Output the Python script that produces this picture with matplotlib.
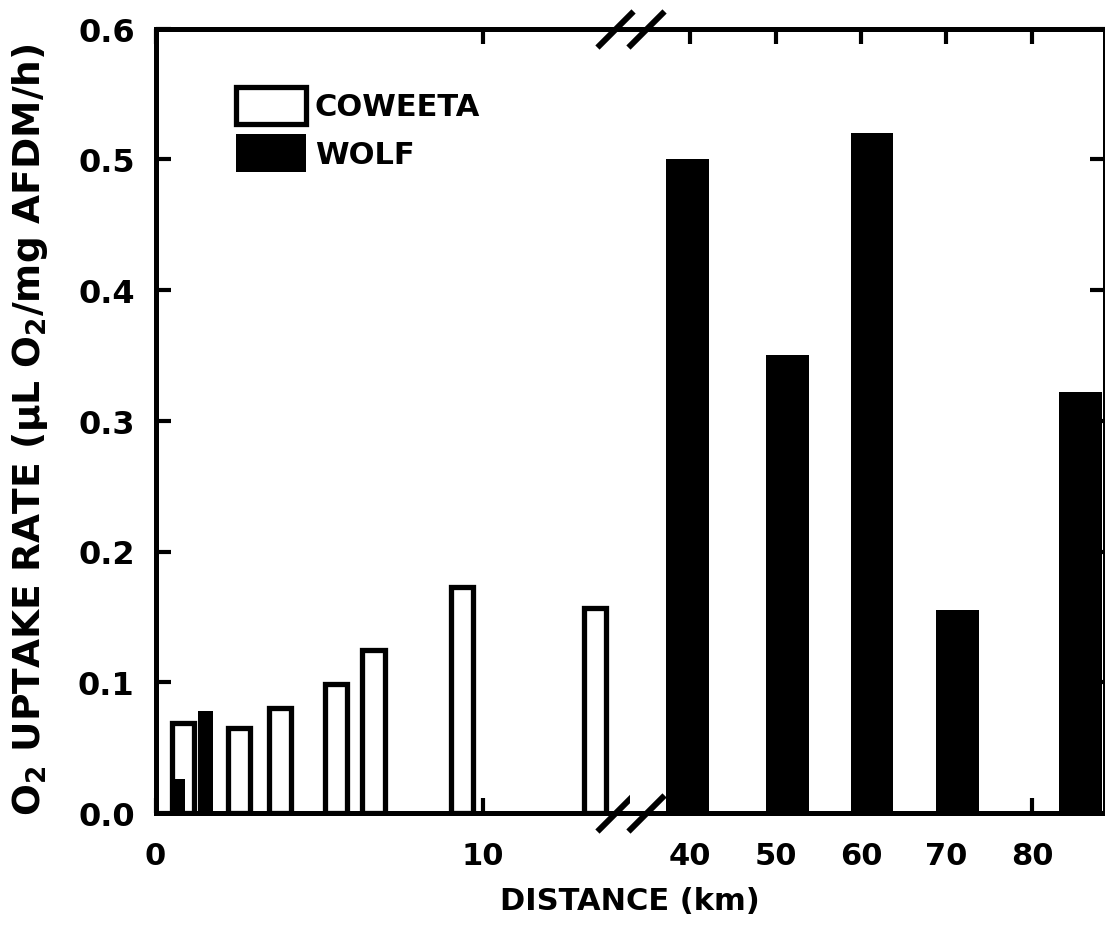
#!/usr/bin/env python3
# -*- coding: utf-8 -*-
# O2 uptake rate of leaf litter along two streams, with a broken distance axis

import matplotlib
matplotlib.use('Agg')
import matplotlib.pyplot as plt
from matplotlib.patches import Patch

# Coweeta sites (km downstream) and uptake rates
coweeta_km = [0.85, 2.56, 3.81, 5.51, 6.66, 9.35, 13.43]
coweeta_rate = [0.069, 0.065, 0.080, 0.099, 0.125, 0.173, 0.157]

# Wolf sites (km downstream) and uptake rates
wolf_km = [0.66, 1.54, 39.7, 51.4, 61.3, 71.3, 85.7]
wolf_rate = [0.026, 0.078, 0.50, 0.35, 0.52, 0.155, 0.322]

near_ticks = [0, 10]
far_ticks = [40, 50, 60, 70, 80]
rate_ticks = [0.0, 0.1, 0.2, 0.3, 0.4, 0.5, 0.6]

plt.rcParams.update({
    'font.family': 'DejaVu Sans',
    'font.weight': 'bold',
})

W, H = 1105, 928
fig = plt.figure(figsize=(W / 100, H / 100), dpi=100)

left = 155.5 / W
bottom = (H - 814) / H
top = (H - 29.5) / H
joint = 630 / W

ax1 = fig.add_axes([left, bottom, joint - left, top - bottom])
ax2 = fig.add_axes([joint, bottom, 1 - joint, top - bottom])

# near part: 0 - 14.5 km
ax1.bar(coweeta_km, coweeta_rate, width=0.68, facecolor='white',
        edgecolor='black', linewidth=3.8, zorder=2)
ax1.bar(wolf_km, wolf_rate, width=0.46, color='black', linewidth=0, zorder=3)
ax1.set_xlim(0, 14.49)

# far part: 33 - 88.5 km
ax2.bar(wolf_km, wolf_rate, width=5.0, color='black', linewidth=0, zorder=3)
ax2.set_xlim(32.98, 88.54)

for ax in (ax1, ax2):
    ax.set_ylim(0, 0.6)
    ax.set_yticks(rate_ticks)
    for s in ax.spines.values():
        s.set_linewidth(3.6)
    ax.tick_params(direction='in', length=11, width=3, top=True, bottom=True,
                   labelsize=22)
    ax.tick_params(axis='x', pad=20)
    ax.tick_params(axis='y', pad=15, labelsize=23)

ax1.spines['right'].set_visible(False)
ax2.spines['left'].set_visible(False)

ax1.set_xticks(near_ticks)
ax1.set_yticklabels(['%.1f' % v for v in rate_ticks])
ax1.tick_params(axis='y', left=True, right=False)

ax2.set_xticks(far_ticks)
ax2.tick_params(axis='y', left=False, right=True, labelleft=False)

# break marks on both horizontal spines
d = 15.0
kw = dict(marker=[(-1, -1), (1, 1)], markersize=26, linestyle='none',
          color='black', mec='black', mew=4.3, clip_on=False, zorder=10)
w1 = (joint - left) * W
w2 = (1 - joint) * W
ax1.plot([1 - d / w1, 1 - d / w1], [0, 1], transform=ax1.transAxes, **kw)
ax2.plot([(d + 1) / w2, (d + 1) / w2], [0, 1], transform=ax2.transAxes, **kw)

ax1.set_ylabel(r'O$_\mathbf{2}$ UPTAKE RATE ($\mathbf{\mu}$L O$_\mathbf{2}$/mg AFDM/h)',
               fontsize=27, fontweight='bold')
ax1.yaxis.set_label_coords((30 - 155.5) / w1, 0.49)
ax1.yaxis.label.set_va('center')

fig.text(630 / W, 1 - 902 / H, 'DISTANCE (km)', ha='center', va='center',
         fontsize=22, fontweight='bold')

handles = [Patch(facecolor='white', edgecolor='black', linewidth=3.8),
           Patch(facecolor='black', edgecolor='black', linewidth=0)]
ax1.legend(handles, ['COWEETA', 'WOLF'], loc='upper left',
           bbox_to_anchor=(235.5 / W, 1 - 87.5 / H),
           bbox_transform=fig.transFigure, frameon=False, borderpad=0,
           borderaxespad=0, handlelength=2.3, handleheight=1.5,
           handletextpad=0.3, labelspacing=0.35,
           prop={'size': 22, 'weight': 'bold'})

plt.savefig('out.png', dpi=100)
